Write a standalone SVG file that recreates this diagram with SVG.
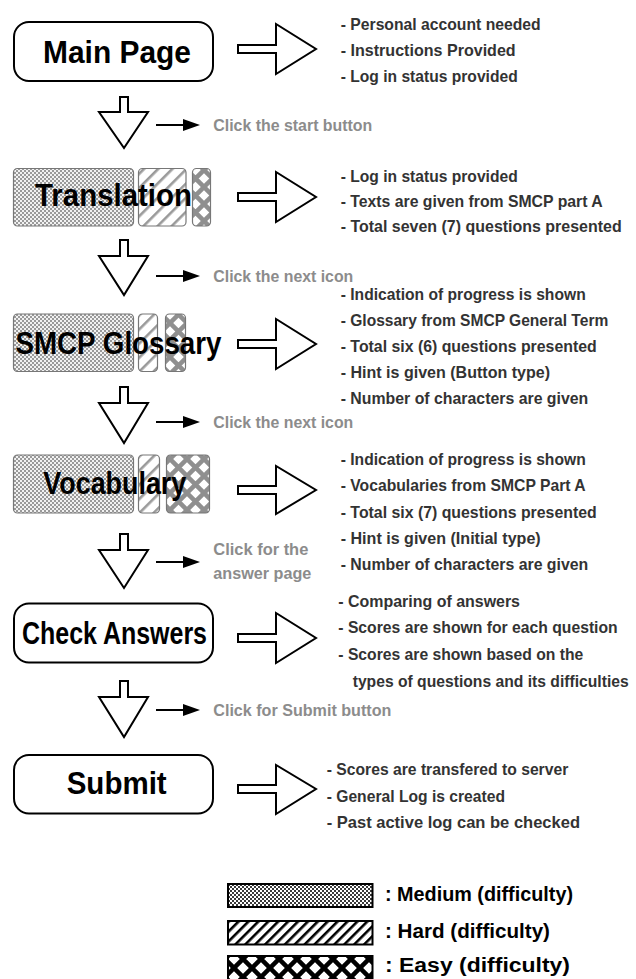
<svg xmlns="http://www.w3.org/2000/svg" width="636" height="979" viewBox="0 0 636 979">
<style>
  .title { font-family: "Liberation Sans", Arial, sans-serif; font-weight: bold; font-size: 31px; fill: #000; }
  .desc { font-family: "Liberation Sans", Arial, sans-serif; font-weight: bold; font-size: 16.5px; fill: #333; }
  .click { font-family: "Liberation Sans", Arial, sans-serif; font-weight: bold; font-size: 16px; fill: #8c8c8c; }
  .legend { font-family: "Liberation Sans", Arial, sans-serif; font-weight: bold; font-size: 19.5px; fill: #000; }
  .plain { fill: #fff; stroke: #000; stroke-width: 2; }
  .pat { stroke: #777; stroke-width: 1.2; }
  .hollow { fill: #fff; stroke: #000; stroke-width: 2; stroke-linejoin: miter; }
  .ptr { stroke: #000; stroke-width: 2; fill: none; }
  .ptrhead { fill: #000; }
  .lg { stroke: #000; stroke-width: 2; }
</style>
<defs>
  <pattern id="medN" patternUnits="userSpaceOnUse" width="4" height="4">
    <rect width="4" height="4" fill="#9a9a9a"/>
    <rect x="0" y="0" width="2" height="2" fill="#f2f2f2"/>
    <rect x="2" y="2" width="2" height="2" fill="#f2f2f2"/>
  </pattern>
  <pattern id="hardN" patternUnits="userSpaceOnUse" width="10" height="10" patternTransform="rotate(45)">
    <rect width="10" height="10" fill="#fff"/>
    <rect x="0" y="0" width="2.6" height="10" fill="#9a9a9a"/>
  </pattern>
  <pattern id="easyN" patternUnits="userSpaceOnUse" width="17" height="17">
    <rect width="17" height="17" fill="#fff"/>
    <path d="M0,0 L17,17 M17,0 L0,17" stroke="#8f8f8f" stroke-width="4.5"/>
  </pattern>
  <pattern id="medL" patternUnits="userSpaceOnUse" width="4" height="4">
    <rect width="4" height="4" fill="#fff"/>
    <rect x="0" y="0" width="2" height="2" fill="#3a3a3a"/>
    <rect x="2" y="2" width="2" height="2" fill="#3a3a3a"/>
  </pattern>
  <pattern id="hardL" patternUnits="userSpaceOnUse" width="7" height="7" patternTransform="rotate(45)">
    <rect width="7" height="7" fill="#fff"/>
    <rect x="0" y="0" width="2.6" height="7" fill="#000"/>
  </pattern>
  <pattern id="easyL" patternUnits="userSpaceOnUse" width="18" height="18" x="0" y="-4">
    <rect width="18" height="18" fill="#fff"/>
    <path d="M0,0 L18,18 M18,0 L0,18" stroke="#000" stroke-width="4.5"/>
  </pattern>
</defs>

<!-- Nodes -->
<g id="main-page">
  <rect class="plain" x="14" y="22" width="199" height="59" rx="15"/>
  <text class="title" x="43" y="62.5" textLength="148" lengthAdjust="spacingAndGlyphs">Main Page</text>
</g>
<g id="translation">
  <rect class="pat" x="13.5" y="168.5" width="120" height="57.5" rx="4" fill="url(#medN)"/>
  <rect class="pat" x="138.5" y="168.5" width="47.5" height="57.5" rx="4" fill="url(#hardN)"/>
  <rect class="pat" x="192.5" y="168.5" width="18" height="57.5" rx="4" fill="url(#easyN)"/>
  <text class="title" x="35" y="206" textLength="157" lengthAdjust="spacingAndGlyphs">Translation</text>
</g>
<g id="smcp-glossary">
  <rect class="pat" x="13.5" y="314" width="120" height="57.5" rx="4" fill="url(#medN)"/>
  <rect class="pat" x="138.5" y="314" width="19" height="57.5" rx="4" fill="url(#hardN)"/>
  <rect class="pat" x="165.5" y="314" width="20" height="57.5" rx="4" fill="url(#easyN)"/>
  <text class="title" x="15.5" y="353.5" textLength="206" lengthAdjust="spacingAndGlyphs">SMCP Glossary</text>
</g>
<g id="vocabulary">
  <rect class="pat" x="13.5" y="455" width="120" height="58" rx="4" fill="url(#medN)"/>
  <rect class="pat" x="138.5" y="455" width="21" height="58" rx="4" fill="url(#hardN)"/>
  <rect class="pat" x="166.5" y="455" width="43" height="58" rx="4" fill="url(#easyN)"/>
  <text class="title" x="43.3" y="493.5" textLength="143" lengthAdjust="spacingAndGlyphs">Vocabulary</text>
</g>
<g id="check-answers">
  <rect class="plain" x="14" y="603.5" width="199" height="59" rx="15"/>
  <text class="title" x="22" y="644" textLength="185" lengthAdjust="spacingAndGlyphs">Check Answers</text>
</g>
<g id="submit">
  <rect class="plain" x="14" y="755" width="199" height="58.5" rx="15"/>
  <text class="title" x="66.7" y="793.5" textLength="100" lengthAdjust="spacingAndGlyphs">Submit</text>
</g>

<!-- Connectors -->
<g id="connectors">
  <polygon class="hollow" points="238,45 276,45 276,24 316,49 276,74 276,53 238,53"/>
  <polygon class="hollow" points="238,193 276,193 276,172 316,197 276,222 276,201 238,201"/>
  <polygon class="hollow" points="238,340 276,340 276,319 316,344 276,369 276,348 238,348"/>
  <polygon class="hollow" points="238,486 276,486 276,466 316,490 276,514 276,494 238,494"/>
  <polygon class="hollow" points="238,634 276,634 276,613 316,638 276,663 276,642 238,642"/>
  <polygon class="hollow" points="238,785 276,785 276,765 316,789 276,814 276,793 238,793"/>
  <polygon class="hollow" points="120,97 128,97 128,112 148,112 124,148 99,112 120,112"/>
  <polygon class="hollow" points="120,240 128,240 128,256 148,256 124,295 99,256 120,256"/>
  <polygon class="hollow" points="120,387 128,387 128,403 148,403 124,443 99,403 120,403"/>
  <polygon class="hollow" points="120,534 128,534 128,550 148,550 124,588 99,550 120,550"/>
  <polygon class="hollow" points="120,681 128,681 128,697 148,697 124,737 99,697 120,697"/>
  <line class="ptr" x1="156" y1="125" x2="185" y2="125"/>
  <polygon class="ptrhead" points="183,119 200,125 183,131"/>
  <line class="ptr" x1="156" y1="276" x2="185" y2="276"/>
  <polygon class="ptrhead" points="183,270 200,276 183,282"/>
  <line class="ptr" x1="156" y1="422" x2="185" y2="422"/>
  <polygon class="ptrhead" points="183,416 200,422 183,428"/>
  <line class="ptr" x1="156" y1="562" x2="185" y2="562"/>
  <polygon class="ptrhead" points="183,556 200,562 183,568"/>
  <line class="ptr" x1="156" y1="710" x2="185" y2="710"/>
  <polygon class="ptrhead" points="183,704 200,710 183,716"/>
</g>

<!-- Click labels -->
<g id="click-labels">
  <text class="click" x="213.3" y="131" textLength="159" lengthAdjust="spacingAndGlyphs">Click the start button</text>
  <text class="click" x="213.3" y="281.5" textLength="140" lengthAdjust="spacingAndGlyphs">Click the next icon</text>
  <text class="click" x="213.3" y="427.5" textLength="140" lengthAdjust="spacingAndGlyphs">Click the next icon</text>
  <text class="click" x="213.3" y="554.5" textLength="95" lengthAdjust="spacingAndGlyphs">Click for  the</text>
  <text class="click" x="213.3" y="578.5" textLength="98" lengthAdjust="spacingAndGlyphs">answer page</text>
  <text class="click" x="213.3" y="715.5" textLength="178" lengthAdjust="spacingAndGlyphs">Click for Submit button</text>
</g>

<!-- Description lists -->
<g id="desc-main">
  <text class="desc" x="340.7" y="29.5" textLength="200" lengthAdjust="spacingAndGlyphs">- Personal account needed</text>
  <text class="desc" x="340.7" y="55.5" textLength="175" lengthAdjust="spacingAndGlyphs">- Instructions  Provided</text>
  <text class="desc" x="340.7" y="81.5" textLength="177" lengthAdjust="spacingAndGlyphs">- Log in status provided</text>
</g>
<g id="desc-translation">
  <text class="desc" x="340.7" y="181.5" textLength="177" lengthAdjust="spacingAndGlyphs">- Log in status provided</text>
  <text class="desc" x="340.7" y="206.5" textLength="262" lengthAdjust="spacingAndGlyphs">- Texts are given from SMCP part A</text>
  <text class="desc" x="340.7" y="231.5" textLength="281" lengthAdjust="spacingAndGlyphs">- Total seven (7) questions presented</text>
</g>
<g id="desc-glossary">
  <text class="desc" x="340.7" y="300" textLength="245" lengthAdjust="spacingAndGlyphs">- Indication of progress is shown</text>
  <text class="desc" x="340.7" y="326" textLength="267.6" lengthAdjust="spacingAndGlyphs">- Glossary from SMCP General Term</text>
  <text class="desc" x="340.7" y="352" textLength="256" lengthAdjust="spacingAndGlyphs">- Total six (6) questions presented</text>
  <text class="desc" x="340.7" y="378" textLength="209.3" lengthAdjust="spacingAndGlyphs">- Hint is given (Button type)</text>
  <text class="desc" x="340.7" y="404" textLength="247.6" lengthAdjust="spacingAndGlyphs">- Number of characters are given</text>
</g>
<g id="desc-vocabulary">
  <text class="desc" x="340.7" y="465" textLength="245" lengthAdjust="spacingAndGlyphs">- Indication of progress is shown</text>
  <text class="desc" x="340.7" y="491" textLength="245" lengthAdjust="spacingAndGlyphs">- Vocabularies from SMCP Part A</text>
  <text class="desc" x="340.7" y="517.5" textLength="256" lengthAdjust="spacingAndGlyphs">- Total six (7) questions presented</text>
  <text class="desc" x="340.7" y="543.5" textLength="200" lengthAdjust="spacingAndGlyphs">- Hint is given (Initial type)</text>
  <text class="desc" x="340.7" y="570" textLength="247.6" lengthAdjust="spacingAndGlyphs">- Number of characters are given</text>
</g>
<g id="desc-check">
  <text class="desc" x="338.3" y="606.7" textLength="181.7" lengthAdjust="spacingAndGlyphs">- Comparing of answers</text>
  <text class="desc" x="338.3" y="633.3" textLength="279.4" lengthAdjust="spacingAndGlyphs">- Scores are shown for each question</text>
  <text class="desc" x="338.3" y="660" textLength="245" lengthAdjust="spacingAndGlyphs">- Scores are shown based on the</text>
  <text class="desc" x="352.7" y="686.7" font-size="15.6" style="font-size:15.6px" textLength="276" lengthAdjust="spacingAndGlyphs">types of questions and its difficulties</text>
</g>
<g id="desc-submit">
  <text class="desc" x="326.7" y="775" textLength="241.6" lengthAdjust="spacingAndGlyphs">- Scores are transfered to server</text>
  <text class="desc" x="326.7" y="801.7" textLength="178.3" lengthAdjust="spacingAndGlyphs">- General Log is created</text>
  <text class="desc" x="326.7" y="828.3" textLength="253.3" lengthAdjust="spacingAndGlyphs">-  Past active log can be checked</text>
</g>

<!-- Legend -->
<g id="legend">
  <rect class="lg" x="228" y="884" width="144.5" height="23" fill="url(#medL)"/>
  <text class="legend" x="385" y="900.5" textLength="188" lengthAdjust="spacingAndGlyphs">: Medium (difficulty)</text>
  <rect class="lg" x="228" y="921" width="144.5" height="23.5" fill="url(#hardL)"/>
  <text class="legend" x="385" y="937.5" textLength="165" lengthAdjust="spacingAndGlyphs">: Hard (difficulty)</text>
  <rect class="lg" x="228" y="956" width="144.5" height="24" fill="url(#easyL)"/>
  <text class="legend" x="385" y="972" textLength="185" lengthAdjust="spacingAndGlyphs">: Easy (difficulty)</text>
</g>
</svg>
